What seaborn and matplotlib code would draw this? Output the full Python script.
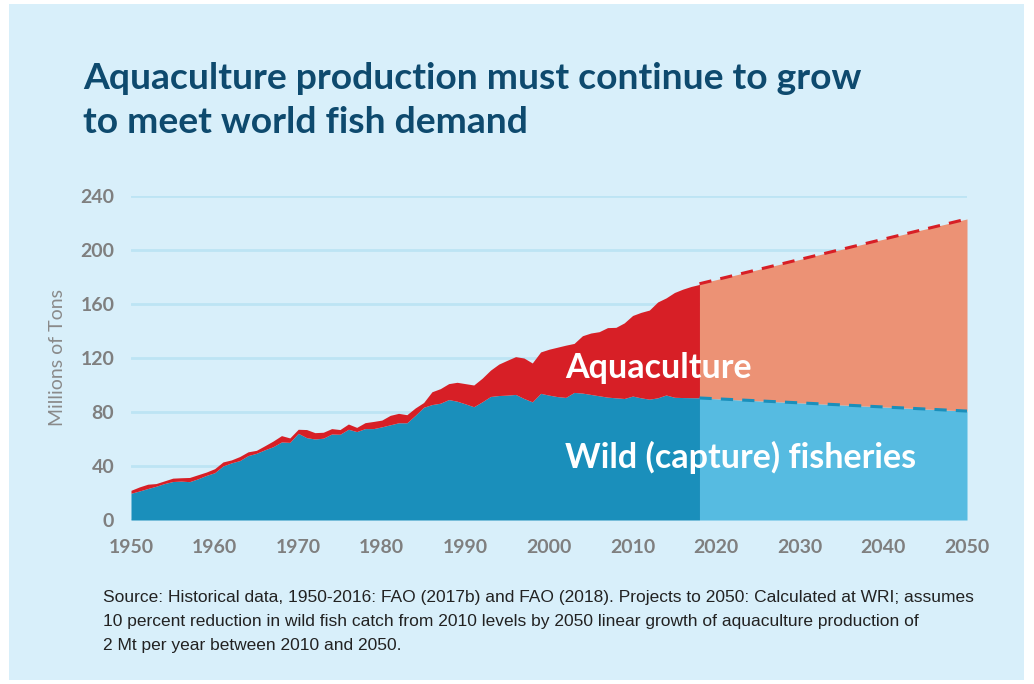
import matplotlib
matplotlib.use("Agg")
import matplotlib.pyplot as plt
import seaborn as sns
import pandas as pd
from matplotlib.patches import Rectangle

# ---------------- data ----------------
hist_years = list(range(1950, 2019))
total_hist = [22.0, 24.5, 26.5, 27.0, 29.0, 31.0, 31.3, 31.5, 33.5, 35.5,
              38.0, 43.0, 44.5, 47.0, 50.5, 51.6, 55.0, 58.5, 62.5, 60.8,
              67.2, 67.0, 64.7, 65.0, 67.7, 67.0, 71.1, 68.6, 72.1, 73.0,
              74.0, 77.5, 79.0, 78.0, 83.0, 87.0, 95.0, 97.3, 101.0, 102.0,
              101.0, 100.0, 105.0, 111.0, 115.5, 118.3, 121.0, 120.0, 116.3, 124.5,
              126.5, 128.0, 129.5, 130.8, 136.5, 138.5, 139.5, 142.5, 142.7, 146.0,
              151.5, 153.8, 155.5, 161.5, 164.5, 168.5, 171.0, 173.0, 174.5]
wild_hist = [19.8, 21.5, 23.3, 25.0, 27.0, 28.5, 28.8, 28.4, 30.5, 33.0,
             35.0, 40.0, 42.3, 44.0, 47.7, 49.4, 52.0, 54.3, 57.8, 57.5,
             64.2, 61.0, 60.0, 60.6, 63.7, 63.5, 67.2, 65.5, 67.7, 67.7,
             69.0, 70.5, 72.0, 72.0, 77.5, 83.5, 85.5, 86.5, 89.2, 88.0,
             86.0, 83.9, 87.5, 91.5, 92.2, 92.5, 93.0, 90.0, 87.5, 93.8,
             92.5, 91.4, 90.8, 94.5, 94.0, 93.0, 92.0, 91.0, 90.5, 90.0,
             91.8, 90.5, 89.5, 90.5, 92.6, 90.9, 90.7, 90.6, 90.5]
proj_years = [2018, 2050]
total_proj = [175.0, 223.0]
wild_proj = [90.4, 80.7]

y_ticks = [0, 40, 80, 120, 160, 200, 240]
x_ticks = [1950, 1960, 1970, 1980, 1990, 2000, 2010, 2020, 2030, 2040, 2050]

title = "Aquaculture production must continue to grow\nto meet world fish demand"
y_label = "Millions of Tons"
label_aqua = "Aquaculture"
label_wild = "Wild (capture) fisheries"
source = ("Source: Historical data, 1950-2016: FAO (2017b) and FAO (2018). Projects to 2050: Calculated at WRI; assumes\n"
          "10 percent reduction in wild fish catch from 2010 levels by 2050 linear growth of aquaculture production of\n"
          "2 Mt per year between 2010 and 2050.")

# ---------------- style ----------------
BG = "#D8EFFA"
DARK_BLUE = "#1A8FBB"
LIGHT_BLUE = "#56BBE1"
RED = "#D71F26"
LIGHT_RED = "#EC9275"
GRID = "#BDE4F4"
NAVY = "#0E4A6E"
GRAY = "#7F7F7F"

sns.set_theme(style="white")
plt.rcParams["font.family"] = ["Lato", "DejaVu Sans"]

fig = plt.figure(figsize=(10.34, 6.84), dpi=100)
fig.patch.set_facecolor("white")
fig.patches.append(Rectangle((9 / 1034, 4 / 684), (1024 - 9) / 1034, (680 - 4) / 684,
                             transform=fig.transFigure, facecolor=BG, edgecolor="none",
                             zorder=-10))

ax = fig.add_axes([131 / 1034, (684 - 520) / 684, 836 / 1034, 324 / 684])
ax.set_zorder(1)
ax.patch.set_alpha(0)

hist = pd.DataFrame({"year": hist_years, "total": total_hist, "wild": wild_hist})
proj = pd.DataFrame({"year": proj_years, "total": total_proj, "wild": wild_proj})

ax.fill_between(hist["year"], 0, hist["wild"], color=DARK_BLUE, lw=0, zorder=2)
ax.fill_between(hist["year"], hist["wild"], hist["total"], color=RED, lw=0, zorder=2)
ax.fill_between(proj["year"], 0, proj["wild"], color=LIGHT_BLUE, lw=0, zorder=2)
ax.fill_between(proj["year"], proj["wild"], proj["total"], color=LIGHT_RED, lw=0, zorder=2)

sns.lineplot(data=proj, x="year", y="total", ax=ax, color=RED, lw=2.2,
             linestyle=(0, (4, 3)), zorder=3)
sns.lineplot(data=proj, x="year", y="wild", ax=ax, color=DARK_BLUE, lw=2.2,
             linestyle=(0, (4, 3)), zorder=3)

ax.set_xlim(1950, 2050)
ax.set_ylim(0, 240)
ax.set_yticks(y_ticks)
ax.set_xticks(x_ticks)
ax.set_yticklabels([str(v) for v in y_ticks])
ax.set_xticklabels([str(v) for v in x_ticks])
ax.tick_params(axis="both", length=0, labelsize=14, labelcolor=GRAY)
ax.tick_params(axis="y", pad=12)
ax.tick_params(axis="x", pad=14)
for lab in ax.get_xticklabels() + ax.get_yticklabels():
    lab.set_fontweight("bold")
ax.grid(axis="y", color=GRID, lw=2, zorder=1)
ax.grid(axis="x", visible=False)
ax.set_axisbelow(True)
for s in ax.spines.values():
    s.set_visible(False)
ax.set_xlabel("")
ax.set_ylabel(y_label, fontsize=14, color="#8A8A8A", labelpad=10)

ax.text(2001.9, 112.5, label_aqua, color="white", fontsize=24.5, fontweight="bold",
        va="center", ha="left", zorder=4)
ax.text(2001.9, 46, label_wild, color="white", fontsize=24.5, fontweight="bold",
        va="center", ha="left", zorder=4)

fig.text(83 / 1034, 1 - 62 / 684, title, color=NAVY, fontsize=26.8, fontweight="bold",
         va="top", ha="left", linespacing=1.42)

fig.text(103 / 1034, 1 - 590 / 684, source, color="#222222", fontsize=12.5,
         family=["Liberation Sans", "DejaVu Sans"], va="top", ha="left",
         linespacing=1.75)

fig.savefig("out.png", dpi=100, facecolor="white")
